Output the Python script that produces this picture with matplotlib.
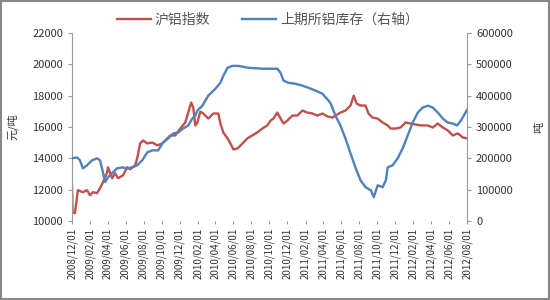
import matplotlib
matplotlib.use("Agg")
import matplotlib.pyplot as plt
import matplotlib.dates as mdates
import pandas as pd
from matplotlib.patches import Rectangle

plt.rcParams['font.family'] = ['Noto Sans CJK SC', 'DejaVu Sans']

# 沪铝指数 (left axis, 元/吨)
al_dates = ["2008-12-01", "2008-12-03", "2008-12-11", "2008-12-21", "2009-01-07", "2009-01-21",
            "2009-01-31", "2009-02-10", "2009-02-24", "2009-03-06", "2009-03-16", "2009-03-30",
            "2009-04-02", "2009-04-16", "2009-04-26", "2009-05-06", "2009-05-23", "2009-06-06",
            "2009-06-16", "2009-07-03", "2009-07-10", "2009-07-20", "2009-07-30", "2009-08-13",
            "2009-08-30", "2009-09-16", "2009-10-03", "2009-10-13", "2009-10-30", "2009-11-16",
            "2009-12-03", "2009-12-20", "2009-12-30", "2010-01-09", "2010-01-16", "2010-01-23",
            "2010-01-30", "2010-02-09", "2010-02-19", "2010-03-08", "2010-03-25", "2010-04-11",
            "2010-04-18", "2010-04-28", "2010-05-12", "2010-05-22", "2010-06-01", "2010-06-15",
            "2010-07-02", "2010-07-18", "2010-08-04", "2010-08-21", "2010-09-07", "2010-09-24",
            "2010-10-05", "2010-10-15", "2010-10-28", "2010-11-08", "2010-11-18", "2010-12-01",
            "2010-12-18", "2011-01-04", "2011-01-21", "2011-02-07", "2011-02-24", "2011-03-13",
            "2011-03-30", "2011-04-16", "2011-05-03", "2011-05-13", "2011-05-30", "2011-06-16",
            "2011-07-03", "2011-07-14", "2011-07-24", "2011-08-06", "2011-08-23", "2011-09-02",
            "2011-09-16", "2011-10-03", "2011-10-20", "2011-11-06", "2011-11-16", "2011-12-03",
            "2011-12-20", "2012-01-06", "2012-01-23", "2012-02-09", "2012-02-26", "2012-03-21",
            "2012-04-07", "2012-04-24", "2012-05-11", "2012-05-28", "2012-06-14", "2012-07-01",
            "2012-07-18", "2012-08-04"]
al_values = [12300, 10550, 10500, 11970, 11840, 11970,
             11650, 11840, 11780, 12100, 12480, 13100,
             13430, 12730, 13050, 12730, 12920, 13430,
             13300, 13560, 14000, 14950, 15140, 14950,
             15010, 14830, 14950, 15140, 15460, 15460,
             15900, 16290, 16920, 17560, 17240, 16100,
             16290, 16980, 16860, 16540, 16860, 16860,
             16220, 15650, 15270, 14950, 14570, 14630,
             14950, 15270, 15460, 15650, 15900, 16100,
             16410, 16540, 16920, 16540, 16220, 16410,
             16730, 16730, 17050, 16920, 16860, 16730,
             16860, 16670, 16600, 16730, 16920, 17050,
             17370, 18000, 17490, 17370, 17370, 16860,
             16600, 16540, 16290, 16100, 15900, 15900,
             15970, 16290, 16220, 16160, 16100, 16100,
             15970, 16220, 15970, 15780, 15460, 15590,
             15330, 15270]

# 上期所铝库存 (right axis, 吨)
inv_dates = ["2008-12-01", "2008-12-18", "2008-12-28", "2009-01-07", "2009-01-21", "2009-02-07",
             "2009-02-24", "2009-03-06", "2009-03-16", "2009-03-23", "2009-04-02", "2009-04-19",
             "2009-05-03", "2009-05-20", "2009-06-06", "2009-06-23", "2009-07-10", "2009-07-27",
             "2009-08-13", "2009-08-30", "2009-09-19", "2009-10-06", "2009-10-23", "2009-11-09",
             "2009-11-26", "2009-12-13", "2009-12-30", "2010-01-13", "2010-01-23", "2010-01-30",
             "2010-02-16", "2010-03-08", "2010-04-01", "2010-04-18", "2010-04-28", "2010-05-12",
             "2010-05-29", "2010-06-18", "2010-07-22", "2010-09-07", "2010-10-28", "2010-11-08",
             "2010-11-18", "2010-12-05", "2010-12-29", "2011-01-21", "2011-02-11", "2011-03-07",
             "2011-03-30", "2011-04-20", "2011-04-27", "2011-05-13", "2011-05-30", "2011-06-16",
             "2011-07-03", "2011-07-21", "2011-08-06", "2011-08-23", "2011-09-10", "2011-09-20",
             "2011-10-03", "2011-10-20", "2011-10-31", "2011-11-06", "2011-11-23", "2011-12-10",
             "2011-12-27", "2012-01-13", "2012-01-30", "2012-02-16", "2012-03-04", "2012-03-21",
             "2012-04-07", "2012-04-24", "2012-05-11", "2012-05-28", "2012-06-14", "2012-06-28",
             "2012-07-11", "2012-07-21", "2012-08-04"]
inv_values = [200000, 203000, 193700, 168000, 177800, 193700,
              200000, 193700, 155500, 124000, 139700, 155500,
              168000, 171000, 168000, 171000, 177800, 193700,
              219000, 225400, 225400, 250800, 263500, 279400,
              282500, 295200, 304800, 327000, 336500, 352400,
              368000, 400000, 422000, 441000, 463500, 489000,
              495000, 495000, 489000, 486000, 486000, 473000,
              448000, 441000, 438000, 432000, 425000, 416000,
              406000, 384000, 374600, 336500, 304800, 263500,
              216000, 168000, 130000, 108000, 98000, 76000,
              114000, 108000, 130000, 171000, 178000, 200000,
              232000, 273000, 314000, 346000, 362000, 368000,
              362000, 346000, 327000, 314000, 311000, 305000,
              320000, 336500, 359000]

tick_dates = pd.date_range("2008-12-01", "2012-08-01", freq="2MS")

label_al = "沪铝指数"
label_inv = "上期所铝库存（右轴）"

red = "#C0504D"
blue = "#4F81BD"

fig = plt.figure(figsize=(5.5, 3.0), dpi=100)
ax = fig.add_axes([72 / 550, 1 - 221 / 300, (467 - 72) / 550, (221 - 33) / 300])
ax2 = ax.twinx()

l1, = ax.plot(pd.to_datetime(al_dates), al_values, color=red, lw=1.7, label=label_al)
l2, = ax2.plot(pd.to_datetime(inv_dates), inv_values, color=blue, lw=1.7, label=label_inv)
ax2.set_zorder(ax.get_zorder() + 1)
ax2.patch.set_visible(False)

ax.set_ylim(10000, 22000)
ax.set_yticks(range(10000, 22001, 2000))
ax2.set_ylim(0, 600000)
ax2.set_yticks(range(0, 600001, 100000))
ax.set_xlim(pd.Timestamp("2008-12-01"), pd.Timestamp("2012-08-01"))
ax.set_xticks(tick_dates)
ax.set_xticklabels([d.strftime("%Y/%m/%d") for d in tick_dates], rotation=90)

tc = "#333333"
for a in (ax, ax2):
    a.tick_params(axis='y', labelsize=8, colors="#999999", labelcolor=tc, length=3, width=0.8)
    a.spines["top"].set_visible(False)
    a.spines["bottom"].set_visible(False)
    a.spines["left"].set_color("#999999")
    a.spines["right"].set_color("#999999")
ax.tick_params(axis='x', labelsize=7, colors="#999999", labelcolor=tc, length=2, width=0.8, pad=3)
ax.spines["right"].set_visible(False)
ax2.spines["left"].set_visible(False)

ax.set_ylabel("元/吨", fontsize=8, color=tc)
ax.yaxis.set_label_coords(-0.135, 0.5)
ax2.set_ylabel("吨", fontsize=8, color=tc)
ax2.yaxis.set_label_coords(1.17, 0.5)

fig.legend(handles=[l1, l2], loc="center", bbox_to_anchor=(268 / 550, 1 - 20 / 300),
           ncol=2, frameon=False, fontsize=10, handlelength=2.4, columnspacing=2.3,
           handletextpad=0.3, labelcolor="#555555")

fig.patches.append(Rectangle((0.002, 0.004), 0.996, 0.994, transform=fig.transFigure,
                             fill=False, edgecolor="#888888", lw=1.5))

fig.savefig("out.png", dpi=100)
